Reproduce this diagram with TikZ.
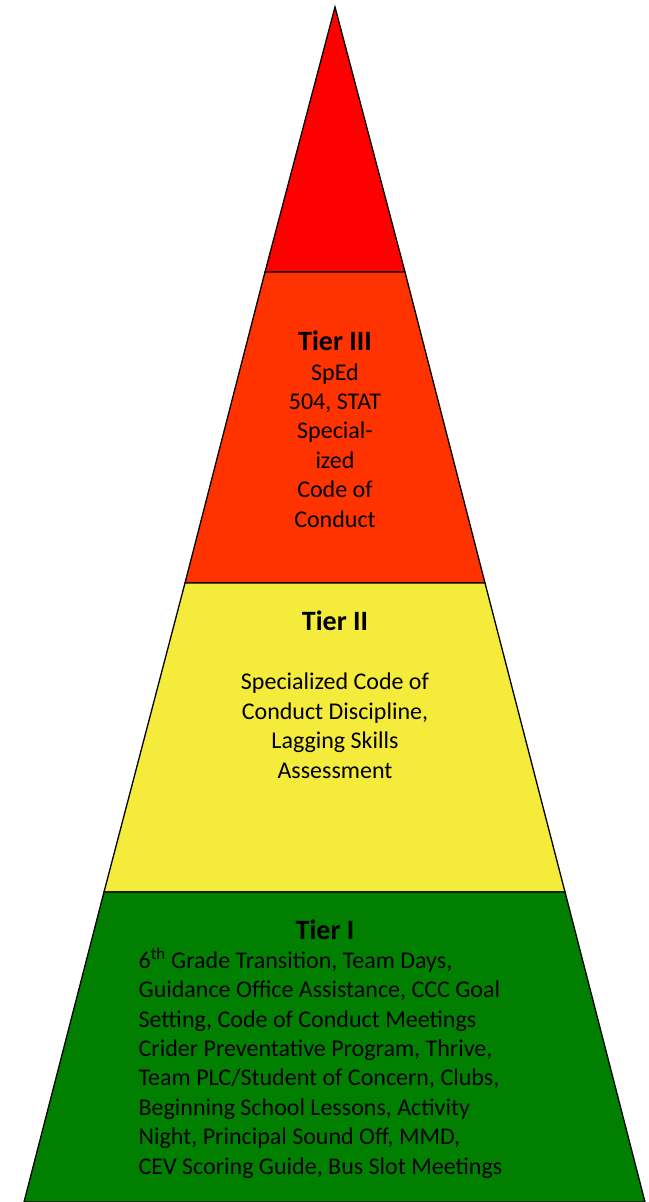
\documentclass[tikz,border=0pt]{standalone}
\usepackage{fontspec}
\setmainfont{Carlito}
\usepackage{xcolor}
\usepackage{tikz}
\usetikzlibrary{positioning}

\definecolor{tiertop}{HTML}{FF0000}
\definecolor{tierthree}{HTML}{FF3300}
\definecolor{tiertwo}{HTML}{F5EB3B}
\definecolor{tierone}{HTML}{007F00}

\begin{document}
\begin{tikzpicture}[x=1pt, y=-1pt, line width=1.3pt,
  head/.style = {font=\fontsize{28}{30}\selectfont\bfseries, inner sep=0pt},
  body/.style = {font=\fontsize{24}{29.4}\selectfont, inner sep=0pt, align=center}]
\useasboundingbox (0,0) rectangle (648,1202);

\draw[fill=tiertop] (335,7) -- (405,272) -- (265,272) -- cycle;
\draw[fill=tierthree] (265,272) -- (405,272) -- (485,583) -- (185,583) -- cycle;
\draw[fill=tiertwo] (185,583) -- (485,583) -- (565,892) -- (104,892) -- cycle;
\draw[fill=tierone] (104,892) -- (565,892) -- (645,1202) -- (24,1202) -- cycle;

% base anchor of a multi-line node sits on its last line
\node (t3) at (335,350) [head, anchor=base]{Tier III};
\node (t3list) at (335,527) [body, anchor=base]{SpEd\\504, STAT\\Special-\\ized\\Code of\\Conduct};

\node (t2) at (335,630) [head, anchor=base]{Tier II};
\node (t2list) at (335,778) [body, anchor=base]{Specialized Code of\\Conduct Discipline,\\Lagging Skills\\Assessment};

\node (t1) at (325,939) [head, anchor=base]{Tier I};
\node (t1list) at (138,1174) [body, align=left, anchor=base west]{6\textsuperscript{th} Grade Transition, Team Days,\\Guidance Office Assistance, CCC Goal\\Setting, Code of Conduct Meetings\\Crider Preventative Program, Thrive,\\Team PLC/Student of Concern, Clubs,\\Beginning School Lessons, Activity\\Night, Principal Sound Off, MMD,\\CEV Scoring Guide, Bus Slot Meetings};

\end{tikzpicture}
\end{document}
